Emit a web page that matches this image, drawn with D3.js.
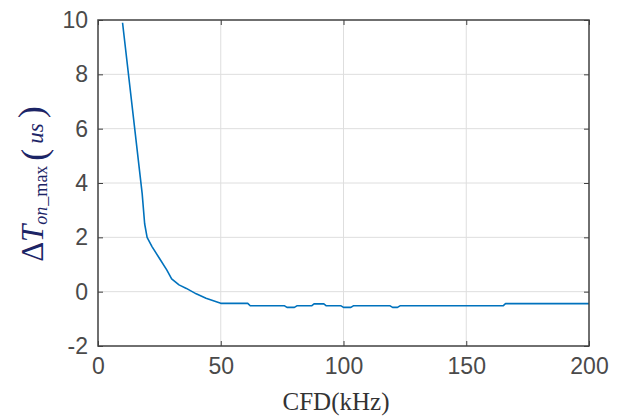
<!DOCTYPE html>
<html><head><meta charset="utf-8">
<script src="https://cdn.jsdelivr.net/npm/d3@7"></script>
<style>body{margin:0;background:#fff}svg{display:block}</style>
</head><body>
<svg id="c" width="624" height="417"></svg>
<script>
const cfd = [10, 18, 19, 20, 22, 25, 28, 30, 33, 36, 40, 44, 50, 61, 62, 76, 77, 80, 81, 87, 88, 92, 93, 99, 100, 103, 104, 119, 120, 122, 123, 165, 166, 200];
const dT  = [9.9, 3.6, 2.5, 2.0, 1.66, 1.23, 0.8, 0.47, 0.25, 0.12, -0.08, -0.24, -0.43, -0.43, -0.52, -0.52, -0.58, -0.58, -0.52, -0.52, -0.45, -0.45, -0.52, -0.52, -0.58, -0.58, -0.52, -0.52, -0.58, -0.58, -0.52, -0.52, -0.44, -0.44];
const xTicks = [0, 50, 100, 150, 200];
const yTicks = [-2, 0, 2, 4, 6, 8, 10];

const L = 98, R = 589, T = 20, B = 346;
const svg = d3.select("#c");
const x = d3.scaleLinear().domain([0, 200]).range([L, R]);
const y = d3.scaleLinear().domain([-2, 10]).range([B, T]);

// grid
svg.append("g").selectAll("line").data(xTicks.slice(1, -1)).join("line")
  .attr("x1", d => x(d)).attr("x2", d => x(d)).attr("y1", T).attr("y2", B)
  .attr("stroke", "#dedede").attr("stroke-width", 1);
svg.append("g").selectAll("line").data(yTicks.slice(1, -1)).join("line")
  .attr("y1", d => y(d)).attr("y2", d => y(d)).attr("x1", L).attr("x2", R)
  .attr("stroke", "#dedede").attr("stroke-width", 1);

// data line
const line = d3.line().x((d, i) => x(cfd[i])).y(d => y(d));
svg.append("path").attr("d", line(dT)).attr("fill", "none")
  .attr("stroke", "#0072BD").attr("stroke-width", 1.6).attr("stroke-linejoin", "round");

// axes (ticks inward)
const fmt = d => String(d);
const ax = (g, axis) => { g.call(axis); g.select(".domain").remove(); g.selectAll(".tick line").attr("stroke", "#404040"); g.selectAll("text").attr("fill", "#4a4a4a").style("font-family", "'Liberation Sans', Arial, sans-serif").style("font-size", "23px"); };
svg.append("g").attr("transform", `translate(0,${B})`)
  .call(g => ax(g, d3.axisBottom(x).tickValues(xTicks).tickFormat(fmt).tickSizeInner(-5).tickSizeOuter(0).tickPadding(12)));
svg.append("g").attr("transform", `translate(0,${T})`)
  .call(g => { ax(g, d3.axisTop(x).tickValues(xTicks).tickSizeInner(-5).tickSizeOuter(0)); g.selectAll("text").remove(); });
svg.append("g").attr("transform", `translate(${L},0)`)
  .call(g => ax(g, d3.axisLeft(y).tickValues(yTicks).tickFormat(fmt).tickSizeInner(-5).tickSizeOuter(0).tickPadding(10)));
svg.append("g").attr("transform", `translate(${R},0)`)
  .call(g => { ax(g, d3.axisRight(y).tickValues(yTicks).tickSizeInner(-5).tickSizeOuter(0)); g.selectAll("text").remove(); });

// box
svg.append("rect").attr("x", L).attr("y", T).attr("width", R - L).attr("height", B - T)
  .attr("fill", "none").attr("stroke", "#404040").attr("stroke-width", 1.5);

// x label
svg.append("text").attr("x", 336).attr("y", 410).attr("text-anchor", "middle")
  .style("font-family", "'Liberation Serif', 'Times New Roman', serif").style("font-size", "25px")
  .attr("fill", "#333").text("CFD(kHz)");

// y label
const yl = svg.append("text").attr("transform", "translate(43,184) rotate(-90)")
  .attr("text-anchor", "middle").attr("fill", "#1c2466")
  .style("font-family", "'Liberation Serif', 'Times New Roman', serif");
yl.append("tspan").style("font-size", "31px").text("Δ");
yl.append("tspan").style("font-size", "31px").style("font-style", "italic").text("T");
yl.append("tspan").style("font-size", "18px").style("font-style", "italic").attr("dy", 4).text("on");
yl.append("tspan").style("font-size", "18px").attr("dx", 1).text("_max");
yl.append("tspan").style("font-size", "36px").attr("dy", -1).attr("dx", 5).text("(");
yl.append("tspan").style("font-size", "23px").style("font-style", "italic").attr("dy", -3).attr("dx", 5).text("us");
yl.append("tspan").style("font-size", "36px").attr("dy", 0).attr("dx", 5).text(")");
</script>
</body></html>
